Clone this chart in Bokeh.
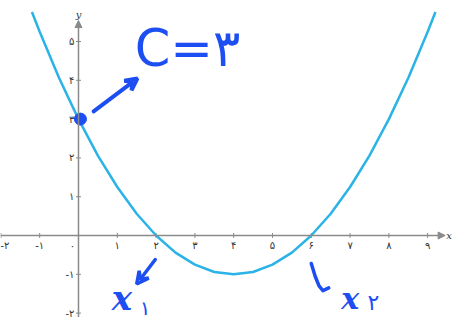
from bokeh.plotting import figure
from bokeh.models import Arrow, VeeHead, NormalHead
from bokeh.core.properties import value
from bokeh.embed import file_html
from bokeh.resources import INLINE
import math

# ---- data ----
curve_x = [-1.2, -1.0, -0.5, 0.0, 0.5, 1.0, 1.5, 2.0, 2.5, 3.0, 3.5, 4.0,
           4.5, 5.0, 5.5, 6.0, 6.5, 7.0, 7.5, 8.0, 8.5, 9.0, 9.2]
curve_y = [5.76, 5.25, 4.06, 3.0, 2.06, 1.25, 0.56, 0.0, -0.44, -0.75, -0.94, -1.0,
           -0.94, -0.75, -0.44, 0.0, 0.56, 1.25, 2.06, 3.0, 4.06, 5.25, 5.76]
x_ticks = [-2, -1, 1, 2, 3, 4, 5, 6, 7, 8, 9]
x_tick_labels = ["-۲", "-۱", "۱", "۲", "۳", "۴", "۵", "۶", "۷", "۸", "۹"]
y_ticks = [-2, -1, 1, 2, 3, 4, 5]
y_tick_labels = ["-۲", "-۱", "۱", "۲", "۳", "۴", "۵"]
origin_label = "۰"
c_point = (0.05, 3.0)
c_text = "C=۳"
x1_text, x1_sub = "x", "۱"
x2_text, x2_sub = "x", "۲"

AX = "#8a8a8a"
CURVE = "#2ab3e6"
INK = "#1d4ef2"
TXT = "#333333"

p = figure(width=452, height=319, x_range=(-2.01, 9.64), y_range=(-2.165, 6.057),
           output_backend="svg", toolbar_location=None, min_border=0)
p.xaxis.visible = False
p.yaxis.visible = False
p.grid.visible = False
p.outline_line_color = None
p.background_fill_color = "white"

# axes
p.add_layout(Arrow(end=NormalHead(size=7, fill_color=AX, line_color=AX),
                   x_start=-2.0, y_start=0, x_end=9.45, y_end=0,
                   line_color=AX, line_width=1.5))
p.add_layout(Arrow(end=NormalHead(size=7, fill_color=AX, line_color=AX),
                   x_start=0, y_start=-2.1, x_end=0, y_end=5.54,
                   line_color=AX, line_width=1.5))

# ticks
p.scatter(x_ticks, [0]*len(x_ticks), marker="dash", angle=math.pi/2, size=5,
          line_color=AX, line_width=1)
p.scatter([0]*len(y_ticks), y_ticks, marker="dash", size=5, line_color=AX, line_width=1)

p.text(x=x_ticks[1:], y=[0]*(len(x_ticks)-1), text=x_tick_labels[1:], text_align="center",
       text_baseline="middle", y_offset=10, text_font_size="10px",
       text_font=value("DejaVu Sans"), text_color=TXT)
p.text(x=x_ticks[:1], y=[0], text=x_tick_labels[:1], text_align="left",
       text_baseline="middle", y_offset=10, x_offset=-0.5, text_font_size="10px",
       text_font=value("DejaVu Sans"), text_color=TXT)
p.text(x=[0]*len(y_ticks), y=y_ticks, text=y_tick_labels, text_align="right",
       text_baseline="middle", x_offset=-4, text_font_size="10px",
       text_font=value("DejaVu Sans"), text_color=TXT)
p.text(x=[0], y=[0], text=[origin_label], text_align="center", text_baseline="middle",
       x_offset=-6, y_offset=10, text_font_size="10px", text_font=value("DejaVu Sans"),
       text_color=TXT)
p.text(x=[9.45], y=[0], text=["x"], text_align="left", text_baseline="middle",
       x_offset=1, text_font_size="10px", text_font_style="italic",
       text_font=value("DejaVu Serif"), text_color=TXT)
p.text(x=[0], y=[5.54], text=["y"], text_align="center", text_baseline="bottom",
       y_offset=-1, text_font_size="10px", text_font_style="italic",
       text_font=value("DejaVu Serif"), text_color=TXT)

# curve
p.line(curve_x, curve_y, line_color=CURVE, line_width=2.5)

# annotations
p.scatter([c_point[0]], [c_point[1]], size=12, fill_color=INK, line_color=INK)
p.add_layout(Arrow(end=VeeHead(size=12, line_color=INK, line_width=4, fill_color=None),
                   x_start=0.39, y_start=3.2, x_end=1.52, y_end=4.05,
                   line_color=INK, line_width=4, line_cap="round"))
p.text(x=[1.45], y=[4.82], text=[c_text], text_align="left", text_baseline="middle",
       text_font_size="51px", text_font=value("DejaVu Sans"), text_color=INK)

p.add_layout(Arrow(end=VeeHead(size=12, line_color=INK, line_width=3.5, fill_color=None),
                   x_start=1.98, y_start=-0.62, x_end=1.5, y_end=-1.25,
                   line_color=INK, line_width=3.5, line_cap="round"))
p.text(x=[1.12], y=[-1.62], text=[x1_text], text_align="center", text_baseline="middle",
       text_font_size="34px", text_font_style="bold italic",
       text_font=value("DejaVu Serif"), text_color=INK)
p.text(x=[1.72], y=[-1.86], text=[x1_sub], text_align="center", text_baseline="middle",
       text_font_size="20px", text_font=value("DejaVu Sans"), text_color=INK)

p.line([6.0, 6.1, 6.2, 6.3, 6.45], [-0.72, -1.05, -1.3, -1.42, -1.35],
       line_color=INK, line_width=3.5, line_cap="round", line_join="round")
p.text(x=[7.0], y=[-1.62], text=[x2_text], text_align="center", text_baseline="middle",
       text_font_size="30px", text_font_style="bold italic",
       text_font=value("DejaVu Serif"), text_color=INK)
p.text(x=[7.6], y=[-1.72], text=[x2_sub], text_align="center", text_baseline="middle",
       text_font_size="22px", text_font=value("DejaVu Sans"), text_color=INK)

open("out.html", "w").write(file_html(p, INLINE))
